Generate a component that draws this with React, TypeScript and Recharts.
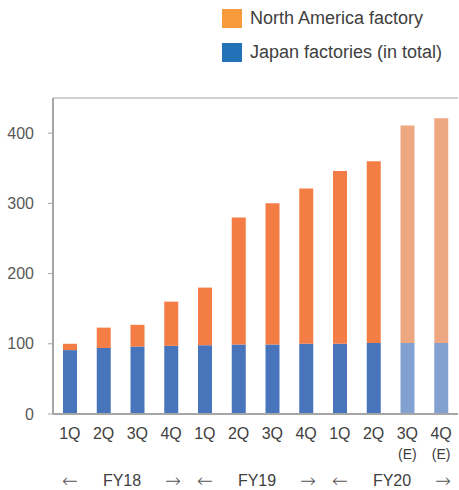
import React from "react";
import { BarChart, Bar, XAxis, YAxis, Cell, ReferenceLine } from "recharts";

const quarters = ["1Q", "2Q", "3Q", "4Q", "1Q", "2Q", "3Q", "4Q", "1Q", "2Q", "3Q", "4Q"];
const isEstimate = [false, false, false, false, false, false, false, false, false, false, true, true];
const japanValues = [91, 94, 96, 97, 98, 99, 99, 100, 100, 101, 101, 101];
const northAmericaValues = [9, 29, 31, 63, 82, 181, 201, 221, 246, 259, 310, 320];
const yTicks = [0, 100, 200, 300, 400];
const yMax = 450;
const fiscalYears = ["FY18", "FY19", "FY20"];

const data = quarters.map((q, i) => ({
  key: `${q}-${i}`,
  quarter: q,
  estimate: isEstimate[i],
  japan: japanValues[i],
  northAmerica: northAmericaValues[i],
}));

const FONT = '"Liberation Sans", Arial, sans-serif';

const colors = {
  japan: "#4874BB",
  japanEst: "#82A1D1",
  na: "#F37D45",
  naEst: "#EDA882",
  legendNa: "#F79A3B",
  legendJapan: "#2372B8",
};

const legendItems = [
  { name: "North America factory", color: colors.legendNa },
  { name: "Japan factories (in total)", color: colors.legendJapan },
];

function QuarterTick(props: any) {
  const { x, y, payload } = props;
  const row = data[payload.index];
  return (
    <g>
      <text x={x} y={y + 17} textAnchor="middle" fill="#404040" fontSize={16} fontFamily={FONT}>
        {row ? row.quarter : ""}
      </text>
      {row && row.estimate && (
        <text x={x} y={y + 37} textAnchor="middle" fill="#404040" fontSize={14} fontFamily={FONT}>
          (E)
        </text>
      )}
    </g>
  );
}

const arrowStyle = {
  position: "absolute" as const,
  top: -3,
  transform: "translateX(-50%)",
  fontFamily: '"DejaVu Sans", sans-serif',
  fontSize: 19,
  fontWeight: 300,
  color: "#555",
};

export default function App() {
  return (
    <div style={{ position: "absolute", left: 0, top: 0, width: 459, height: 490, background: "#fff" }}>
      <BarChart
        width={459}
        height={490}
        data={data}
        margin={{ top: 98, right: 1, left: 0, bottom: 26 }}
        barSize={14}
      >
        <XAxis
          dataKey="key"
          interval={0}
          height={50}
          axisLine={{ stroke: "#A6A6A6", strokeWidth: 2 }}
          tickLine={false}
          tick={<QuarterTick />}
        />
        <XAxis xAxisId="frame" type="number" domain={[0, data.length]} hide />
        <YAxis
          domain={[0, yMax]}
          ticks={yTicks}
          width={53}
          tickSize={5}
          tickMargin={14}
          axisLine={{ stroke: "#A6A6A6", strokeWidth: 2 }}
          tickLine={{ stroke: "#A6A6A6" }}
          tick={{ fill: "#595959", fontSize: 16, fontFamily: FONT }}
          allowDataOverflow
        />
        <ReferenceLine y={yMax} stroke="#D0D0D0" strokeWidth={2} ifOverflow="visible" />
        <ReferenceLine xAxisId="frame" x={data.length} stroke="#D0D0D0" strokeWidth={2} ifOverflow="visible" />
        <Bar dataKey="japan" stackId="a" fill={colors.japan} isAnimationActive={false}>
          {data.map((d) => (
            <Cell key={d.key} fill={d.estimate ? colors.japanEst : colors.japan} />
          ))}
        </Bar>
        <Bar dataKey="northAmerica" stackId="a" fill={colors.na} isAnimationActive={false}>
          {data.map((d) => (
            <Cell key={d.key} fill={d.estimate ? colors.naEst : colors.na} />
          ))}
        </Bar>
      </BarChart>
      <div style={{ position: "absolute", left: 222, top: 1, fontFamily: FONT }}>
        {legendItems.map((item) => (
          <div key={item.name} style={{ display: "flex", alignItems: "center", height: 34 }}>
            <span style={{ width: 20, height: 19, background: item.color, marginRight: 8 }} />
            <span style={{ fontSize: 18, color: "#404040" }}>{item.name}</span>
          </div>
        ))}
      </div>
      <div style={{ position: "absolute", left: 53, top: 472, width: 405, height: 24, display: "flex", fontFamily: FONT, color: "#404040", fontSize: 16 }}>
        {fiscalYears.map((fy) => (
          <div key={fy} style={{ position: "relative", width: 135, height: 24 }}>
            <span style={{ ...arrowStyle, left: 17 }}>←</span>
            <span style={{ position: "absolute", left: 69, transform: "translateX(-50%)" }}>{fy}</span>
            <span style={{ ...arrowStyle, left: 120 }}>→</span>
          </div>
        ))}
      </div>
    </div>
  );
}
